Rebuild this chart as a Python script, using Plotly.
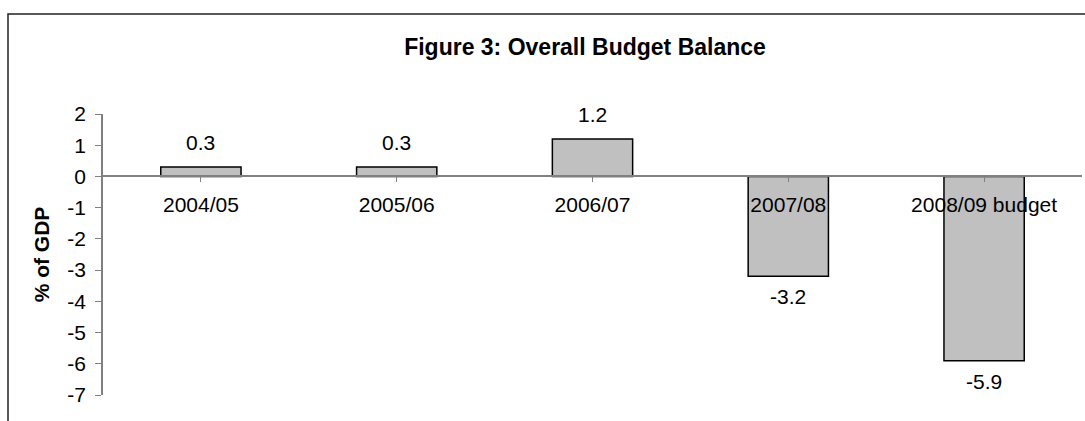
import plotly.graph_objects as go

# Overall budget balance, % of GDP
years = ["2004/05", "2005/06", "2006/07", "2007/08", "2008/09 budget"]
balance = [0.3, 0.3, 1.2, -3.2, -5.9]
y_ticks = [2, 1, 0, -1, -2, -3, -4, -5, -6, -7]

FONT = "Arial, Liberation Sans, sans-serif"
W, H = 1085, 421
M_L, M_R, M_T, M_B = 103, 3, 114, 26
Y_MIN, Y_MAX = -7, 2
LABEL_SIZE = 21

fig = go.Figure(
    go.Bar(
        x=list(range(len(years))),
        y=balance,
        width=0.41,
        marker=dict(color="#C0C0C0", line=dict(color="#000000", width=1.5)),
        hoverinfo="skip",
    )
)

# value labels above positive bars and below negative ones
for i, v in enumerate(balance):
    fig.add_annotation(
        x=i, y=v, xref="x", yref="y",
        text=f"{v:.1f}", showarrow=False,
        yanchor="bottom" if v >= 0 else "top",
        yshift=11 if v >= 0 else -7,
        font=dict(family=FONT, size=LABEL_SIZE, color="#000000"),
    )

# outer chart frame (right and bottom edges fall outside the page)
pw, ph = W - M_L - M_R, H - M_T - M_B
fig.add_shape(
    type="rect", xref="paper", yref="paper",
    x0=(8 - M_L) / pw, x1=(W + 10 - M_L) / pw,
    y0=-(H + 10 - (H - M_B)) / ph, y1=((H - M_B) - 14) / ph,
    line=dict(color="#222222", width=1.5),
)

fig.update_layout(
    width=W, height=H,
    margin=dict(l=M_L, r=M_R, t=M_T, b=M_B),
    paper_bgcolor="white", plot_bgcolor="white",
    showlegend=False,
    font=dict(family=FONT, size=LABEL_SIZE, color="#000000"),
    title=dict(
        text="<b>Figure 3: Overall Budget Balance</b>",
        font=dict(family=FONT, size=23, color="#000000"),
        x=585 / W, xanchor="center", xref="container",
        y=1 - 47 / H, yanchor="middle", yref="container",
    ),
    xaxis=dict(
        range=[-0.5, len(years) - 0.5],
        tickmode="array", tickvals=list(range(len(years))), ticktext=years,
        anchor="free", position=(0 - Y_MIN) / (Y_MAX - Y_MIN),
        showline=True, linecolor="#808080", linewidth=1.5,
        ticks="outside", tickson="boundaries", ticklen=5, tickcolor="#808080",
        ticklabelstandoff=5,
        showgrid=False, zeroline=False,
        tickfont=dict(family=FONT, size=LABEL_SIZE, color="#000000"),
    ),
    yaxis=dict(
        range=[Y_MIN, Y_MAX],
        tickmode="array", tickvals=y_ticks, ticktext=[str(t) for t in y_ticks],
        showline=True, linecolor="#808080", linewidth=1.5,
        ticks="outside", ticklen=6, tickcolor="#808080",
        ticklabelstandoff=5,
        showgrid=False, zeroline=False,
        tickfont=dict(family=FONT, size=LABEL_SIZE, color="#000000"),
        title=dict(text="<b>% of GDP</b>", standoff=12,
                   font=dict(family=FONT, size=LABEL_SIZE, color="#000000")),
    ),
)

fig.write_html("out.html")
